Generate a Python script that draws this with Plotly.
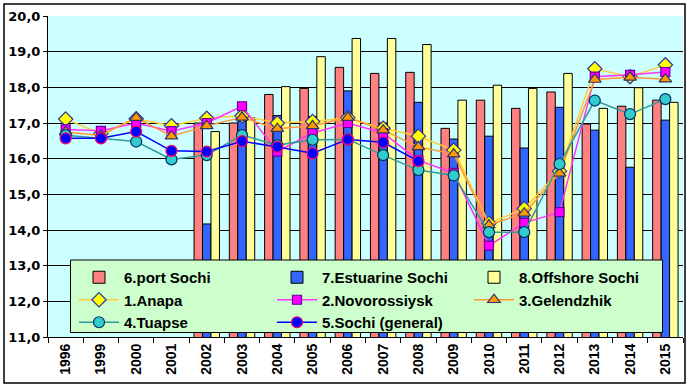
import plotly.graph_objects as go

years = ["1996", "1999", "2000", "2001", "2002", "2003", "2004", "2005", "2006",
         "2007", "2008", "2009", "2010", "2011", "2012", "2013", "2014", "2015"]

port_sochi = [None, None, None, None, 17.0, 17.0, 17.8, 17.97, 18.56, 18.39, 18.42,
              16.85, 17.64, 17.41, 17.87, 16.97, 17.47, 17.64]
estuarine_sochi = [None, None, None, None, 14.17, 17.05, 17.21, 17.18, 17.9, 17.0, 17.58,
                   16.55, 16.63, 16.3, 17.44, 16.8, 15.76, 17.08]
offshore_sochi = [None, None, None, None, 16.76, 17.15, 18.02, 18.86, 19.37, 19.37, 19.2,
                  17.64, 18.06, 17.97, 18.39, 17.41, 17.99, 17.58]

anapa = [17.11, 16.7, 17.12, 16.92, 17.13, 17.2, 17.0, 17.04, 17.15, 16.85, 16.63,
         16.24, 14.19, 14.6, 15.65, 18.52, 18.3, 18.63]
novorossiysk = [16.82, 16.78, 17.0, 16.77, 17.0, 17.47, 16.2, 16.72, 17.0, 16.72, 15.95,
                15.6, 13.56, 14.2, 14.5, 18.3, 18.35, 18.43]
gelendzhik = [16.75, 16.65, 17.15, 16.63, 16.92, 17.16, 16.84, 16.92, 17.15, 16.8, 16.33,
              16.13, 14.14, 14.47, 15.59, 18.22, 18.28, 18.23]
tuapse = [16.66, 16.58, 16.48, 15.98, 16.1, 16.66, 16.38, 16.53, 16.54, 16.1, 15.68,
          15.53, 13.94, 13.94, 15.85, 17.63, 17.25, 17.67]
sochi_general = [16.57, 16.57, 16.76, 16.22, 16.2, 16.49, 16.33, 16.15, 16.54, 16.46, 15.93,
                 None, None, None, None, None, None, None]

FONT = "Arial, Liberation Sans, sans-serif"
WIDE = "DejaVu Sans, Verdana, sans-serif"

# plot area in pixels
L, T, R, B = 48, 16, 683, 337
W, H = R - L, B - T


def px(x):
    return (x - L) / W


def py(y):
    return (B - y) / H


fig = go.Figure()

bar_specs = [
    ("6.port Sochi", port_sochi, "#FF8080", "legend"),
    ("7.Estuarine Sochi", estuarine_sochi, "#3366FF", "legend2"),
    ("8.Offshore Sochi", offshore_sochi, "#FFFF99", "legend3"),
]
for name, vals, col, lg in bar_specs:
    fig.add_trace(go.Bar(x=years, y=vals, name=name, legend=lg, legendgroup=name,
                         marker=dict(color=col, line=dict(color="black", width=1))))

line_specs = [
    ("1.Anapa", anapa, "#FFCC33", "diamond", "#FFFF00", "#333399", 11, "legend"),
    ("2.Novorossiysk", novorossiysk, "#FF33FF", "square", "#FF00FF", "#660099", 9, "legend2"),
    ("3.Gelendzhik", gelendzhik, "#FF9933", "triangle-up", "#FF9900", "#333366", 11, "legend3"),
    ("4.Tuapse", tuapse, "#339999", "circle", "#33CCCC", "#003366", 11, "legend"),
    ("5.Sochi (general)", sochi_general, "#0000FF", "circle", "#0000FF", "#FF0066", 11, "legend2"),
]
for name, vals, lc, sym, fc, bc, sz, lg in line_specs:
    fig.add_trace(go.Scatter(x=years, y=vals, name=name, mode="lines+markers", legend=lg,
                             legendgroup=name,
                             line=dict(color=lc, width=1.5),
                             marker=dict(symbol=sym, size=sz, color=fc, line=dict(color=bc, width=1.2))))

leg_font = dict(family=FONT, size=15, color="black", weight="bold")
leg_top = py(261)


def legend_at(xpix):
    return dict(x=px(xpix), y=leg_top, xanchor="left", yanchor="top",
                orientation="v", bgcolor="rgba(0,0,0,0)", borderwidth=0,
                font=leg_font, itemwidth=40, traceorder="grouped", tracegroupgap=0)


fig.update_layout(
    width=689, height=389,
    margin=dict(l=L, r=689 - R, t=T, b=389 - B, autoexpand=False),
    paper_bgcolor="white",
    plot_bgcolor="#CCFFFF",
    barmode="group",
    bargap=0.28,
    bargroupgap=0,
    separators=", ",
    font=dict(family=FONT, color="black"),
    showlegend=True,
    legend=legend_at(74),
    legend2=legend_at(272),
    legend3=legend_at(469),
    xaxis=dict(
        type="category", range=[-0.5, len(years) - 0.5], tickangle=-90,
        showline=True, linecolor="black", linewidth=1,
        ticks="outside", tickson="boundaries", ticklen=5, tickcolor="black",
        tickfont=dict(family=FONT, size=14, weight="bold"), showgrid=False,
    ),
    yaxis=dict(
        range=[11, 20], dtick=1, tickformat=".1f", showline=True, linecolor="black",
        ticks="outside", ticklen=4, tickcolor="black", gridcolor="black", gridwidth=1,
        tickfont=dict(family=WIDE, size=13, weight="bold"), zeroline=False,
    ),
    shapes=[
        dict(type="rect", xref="paper", yref="paper",
             x0=px(4), x1=px(685), y0=py(383), y1=py(4),
             line=dict(color="black", width=1.5), fillcolor="rgba(0,0,0,0)", layer="below"),
        dict(type="rect", xref="paper", yref="paper",
             x0=px(70.5), x1=px(662.5), y0=py(332.5), y1=py(260),
             line=dict(color="black", width=1), fillcolor="#CCFFCC", layer="above"),
    ],
)

fig.write_html("out.html", config={"displayModeBar": False},
               post_script="document.body.style.margin='0';document.body.style.overflow='hidden';")
